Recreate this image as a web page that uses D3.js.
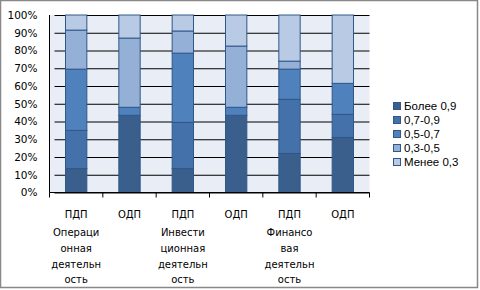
<!DOCTYPE html>
<html>
<head>
<meta charset="utf-8">
<script src="https://cdn.jsdelivr.net/npm/d3@7/dist/d3.min.js"></script>
<style>
  html, body { margin: 0; padding: 0; background: #fff; }
  svg { display: block; }
</style>
</head>
<body>
<svg id="chart"></svg>
<script>
// ── Data ─────────────────────────────────────────────
const categories = ['c1', 'c2', 'c3', 'c4', 'c5', 'c6'];
const categoryLabels = [
  ['ПДП', 'Операци', 'онная', 'деятельн', 'ость'],
  ['ОДП'],
  ['ПДП', 'Инвести', 'ционная', 'деятельн', 'ость'],
  ['ОДП'],
  ['ПДП', 'Финансо', 'вая', 'деятельн', 'ость'],
  ['ОДП']
];
const seriesNames = ['Более 0,9', '0,7-0,9', '0,5-0,7', '0,3-0,5', 'Менее 0,3'];
const more09  = [13.5, 43.5, 13.5, 43.5, 22, 31];
const s07to09 = [21.5, 0, 26, 0, 30.5, 13];
const s05to07 = [34.5, 4.5, 39, 4.5, 17, 17.5];
const s03to05 = [22, 39, 12.5, 34.5, 4.5, 0];
const less03  = [8.5, 13, 9, 17.5, 26, 38.5];
const yTicks  = [0, 10, 20, 30, 40, 50, 60, 70, 80, 90, 100];

const seriesValues = [more09, s07to09, s05to07, s03to05, less03];
const colors = ['#3b5f8c', '#4571aa', '#4f81bd', '#95b0d6', '#b9cbe4'];

// ── Layout ───────────────────────────────────────────
const W = 480, H = 290;
const plot = { left: 49.5, right: 369.5, top: 15, bottom: 192.5 };

const svg = d3.select('#chart').attr('width', W).attr('height', H);

// outer frame
svg.append('rect')
  .attr('x', 0.5).attr('y', 0.5)
  .attr('width', W - 3).attr('height', H - 3)
  .attr('fill', '#fff')
  .attr('stroke', '#888')
  .attr('stroke-width', 1.5);

const x = d3.scaleBand()
  .domain(categories)
  .range([plot.left, plot.right])
  .padding(0);

const y = d3.scaleLinear()
  .domain([0, 100])
  .range([plot.bottom, plot.top]);

// plot background
svg.append('rect')
  .attr('x', plot.left).attr('y', plot.top)
  .attr('width', plot.right - plot.left)
  .attr('height', plot.bottom - plot.top)
  .attr('fill', '#e9edf5');

// gridlines + y axis
const yAxis = svg.append('g')
  .attr('transform', `translate(${plot.left},0)`)
  .call(d3.axisLeft(y)
    .tickValues(yTicks)
    .tickSize(-(plot.right - plot.left))
    .tickFormat(d => d + '%'));
yAxis.select('.domain').remove();
yAxis.selectAll('.tick line').attr('stroke', '#000').attr('x1', 5).attr('stroke-width', 1);
yAxis.selectAll('.tick text')
  .attr('x', -12)
  .attr('fill', '#000')
  .attr('font-size', 10.5)
  .attr('font-family', '"DejaVu Sans", sans-serif');

// left axis line
svg.append('line')
  .attr('x1', plot.left).attr('x2', plot.left)
  .attr('y1', plot.top).attr('y2', plot.bottom)
  .attr('stroke', '#000');

// ── Stacked bars ─────────────────────────────────────
const rows = categories.map((c, i) => {
  const r = { cat: c };
  seriesNames.forEach((s, k) => { r[s] = seriesValues[k][i]; });
  return r;
});
const stacked = d3.stack().keys(seriesNames)(rows);

const barW = x.bandwidth() * 0.4;
svg.append('g').selectAll('g')
  .data(stacked)
  .join('g')
    .attr('fill', (d, k) => colors[k])
  .selectAll('rect')
  .data(d => d.filter(p => p[1] - p[0] > 0))
  .join('rect')
    .attr('x', d => x(d.data.cat) + (x.bandwidth() - barW) / 2)
    .attr('y', d => y(d[1]))
    .attr('width', barW)
    .attr('height', d => y(d[0]) - y(d[1]))
    .attr('stroke', '#2f5889')
    .attr('stroke-width', 1);

// ── X axis ───────────────────────────────────────────
svg.append('line')
  .attr('x1', plot.left).attr('x2', plot.right)
  .attr('y1', plot.bottom).attr('y2', plot.bottom)
  .attr('stroke', '#000');

const bounds = categories.map(c => x(c)).concat([plot.right]);
svg.append('g').selectAll('line')
  .data(bounds)
  .join('line')
    .attr('x1', d => d).attr('x2', d => d)
    .attr('y1', plot.bottom).attr('y2', plot.bottom + 5)
    .attr('stroke', '#000');

const lineY = [214, 232.5, 248.2, 264, 279.5];
const labelG = svg.append('g')
  .attr('font-size', 10)
  .attr('font-family', '"DejaVu Sans", sans-serif')
  .attr('fill', '#000')
  .attr('text-anchor', 'middle');
categories.forEach((c, i) => {
  categoryLabels[i].forEach((t, j) => {
    labelG.append('text')
      .attr('x', x(c) + x.bandwidth() / 2)
      .attr('y', lineY[j])
      .attr('dy', '0.35em')
      .text(t);
  });
});

// ── Legend ───────────────────────────────────────────
const legend = svg.append('g')
  .attr('font-size', 11.5)
  .attr('font-family', '"Liberation Sans", Arial, sans-serif');
seriesNames.forEach((s, k) => {
  const cy = 106 + k * 14;
  legend.append('rect')
    .attr('x', 393.5).attr('y', cy - 3.5)
    .attr('width', 7).attr('height', 7)
    .attr('fill', colors[k])
    .attr('stroke', '#2f5889');
  legend.append('text')
    .attr('x', 404).attr('y', cy)
    .attr('dy', '0.35em')
    .attr('fill', '#000')
    .text(s);
});
</script>
</body>
</html>
